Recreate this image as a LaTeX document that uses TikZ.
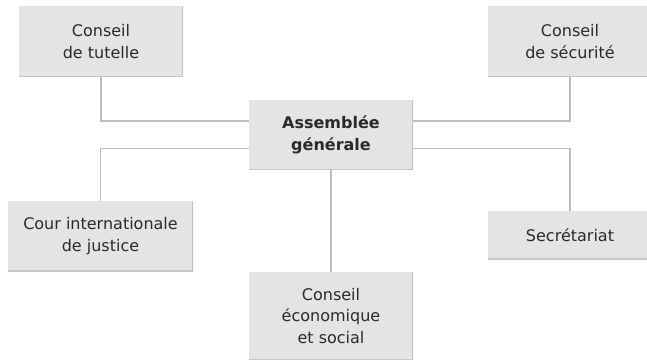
\documentclass[tikz,border=0pt]{standalone}
\usepackage{fontspec}
\setmainfont{DejaVu Sans}
\definecolor{boxgray}{HTML}{E4E4E4}
\definecolor{edgegray}{HTML}{C4C4C4}
\definecolor{linegray}{HTML}{BDBDBD}
\definecolor{textgray}{HTML}{2A2A2A}
\begin{document}
\begin{tikzpicture}[x=0.75pt,y=-0.75pt,
	organ/.style={fill=boxgray,rectangle,inner sep=0pt,minimum width=164*0.75pt,minimum height=70*0.75pt,
		align=center,text=textgray,font=\fontsize{12}{16.2}\selectfont,
		path picture={\draw[edgegray,line width=1.5pt] (path picture bounding box.north east) -- (path picture bounding box.south east) -- (path picture bounding box.south west);}},
	link/.style={draw=linegray,line width=1.4pt}]

	\useasboundingbox (0,0) rectangle (647,360);

	% organes
	\node[organ,minimum height=71*0.75pt] (tutelle) at (101,41.5) {Conseil\\de tutelle};
	\node[organ,minimum height=71*0.75pt] (securite) at (570,41.5) {Conseil\\de sécurité};
	\node[organ,font=\bfseries\fontsize{12}{16.2}\selectfont] (assemblee) at (331,135) {Assemblée\\générale};
	\node[organ,minimum width=185*0.75pt] (cour) at (100.5,236) {Cour internationale\\de justice};
	\node[organ,minimum height=88*0.75pt] (ecosoc) at (331,316) {Conseil\\économique\\et social};
	\node[organ,minimum height=48*0.75pt] (secretariat) at (570,235) {Secrétariat};

	% liaisons
	\draw[link] (tutelle.south) |- (assemblee.west |- 0,121);
	\draw[link] (assemblee.west |- 0,148.5) -| (cour.north);
	\draw[link] (securite.south) |- (assemblee.east |- 0,121);
	\draw[link] (assemblee.east |- 0,148.5) -| (secretariat.north);
	\draw[link] (assemblee.south) -- (ecosoc.north);

\end{tikzpicture}
\end{document}
